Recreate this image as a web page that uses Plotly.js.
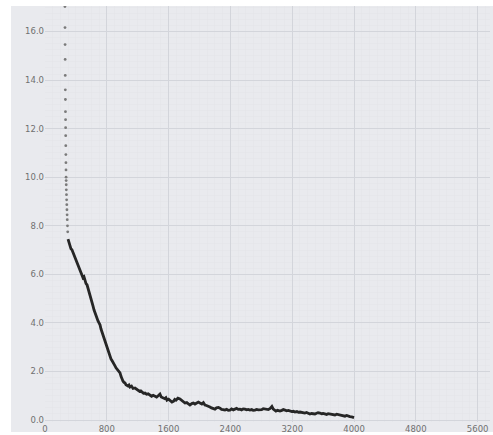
<!DOCTYPE html>
<html>
<head>
<meta charset="utf-8">
<script src="https://cdn.plot.ly/plotly-3.0.1.min.js"></script>
<style>html,body{margin:0;padding:0;background:#fff;}#chart{width:493px;height:435px;}</style>
</head>
<body>
<div id="chart"></div>
<script>
// Sparse early points (markers)
const dotX = [258,259,260,261,262,263,264,265,266,267,268,269,270,271,272,273,274,275,276,278,280,282,284,286,288,291,294];
const dotY = [17.03,16.16,15.46,14.85,14.19,13.6,13.2,12.7,12.37,12.04,11.71,11.3,10.93,10.6,10.3,10.0,9.86,9.69,9.48,9.28,9.07,8.87,8.66,8.45,8.25,8.0,7.75];

// Dense curve
const lineX = [298,310,324,336,349,362,375,388,400,414,427,440,453,466,479,492,505,518,531,544,556,569,582,595,608,621,634,647,660,673,686,699,712,725,738,751,764,777,790,803,815,828,841,854,867,880,893,906,919,932,945,958,971,984,997,1010,1022,1035,1048,1061,1074,1087,1100,1120,1140,1165,1185,1203,1225,1240,1255,1275,1294,1315,1335,1359,1380,1400,1423,1445,1465,1488,1505,1527,1550,1565,1579,1600,1620,1643,1665,1680,1695,1720,1747,1770,1790,1812,1835,1855,1876,1900,1920,1941,1965,1985,2006,2030,2050,2070,2090,2110,2135,2155,2178,2200,2220,2245,2265,2285,2305,2329,2350,2372,2394,2415,2437,2459,2480,2500,2523,2545,2565,2588,2610,2630,2653,2675,2695,2717,2740,2760,2782,2805,2825,2847,2870,2890,2915,2937,2955,2970,2989,3010,3025,3041,3065,3085,3106,3125,3150,3170,3195,3215,3235,3260,3280,3300,3320,3345,3364,3385,3405,3429,3450,3470,3494,3515,3535,3559,3580,3600,3623,3645,3665,3688,3710,3730,3753,3775,3795,3817,3840,3860,3882,3905,3925,3947,3970,3990,4000];
const lineY = [7.45,7.30,7.22,7.05,7.01,6.90,6.85,6.72,6.60,6.50,6.39,6.30,6.19,6.05,5.98,5.86,5.90,5.73,5.62,5.57,5.45,5.30,5.15,5.02,4.87,4.70,4.54,4.40,4.32,4.21,4.08,4.00,3.92,3.75,3.62,3.51,3.35,3.20,3.09,2.98,2.89,2.72,2.60,2.52,2.45,2.39,2.30,2.23,2.15,2.10,2.06,2.00,1.94,1.80,1.65,1.60,1.55,1.53,1.45,1.42,1.40,1.44,1.36,1.40,1.30,1.32,1.26,1.24,1.18,1.20,1.15,1.10,1.11,1.06,1.08,1.03,0.98,1.02,0.99,0.95,1.00,1.07,0.95,0.91,0.88,0.92,0.82,0.86,0.80,0.74,0.78,0.85,0.82,0.90,0.87,0.80,0.76,0.70,0.72,0.66,0.62,0.68,0.70,0.66,0.72,0.74,0.70,0.66,0.72,0.62,0.60,0.58,0.54,0.50,0.48,0.45,0.50,0.52,0.49,0.44,0.43,0.41,0.44,0.40,0.41,0.46,0.42,0.45,0.48,0.44,0.45,0.42,0.46,0.45,0.42,0.44,0.41,0.43,0.40,0.41,0.44,0.42,0.41,0.43,0.47,0.45,0.42,0.43,0.48,0.56,0.45,0.40,0.37,0.40,0.38,0.37,0.40,0.43,0.41,0.38,0.40,0.37,0.35,0.36,0.33,0.35,0.32,0.33,0.31,0.30,0.29,0.31,0.27,0.25,0.27,0.26,0.25,0.28,0.30,0.29,0.26,0.27,0.25,0.23,0.26,0.25,0.24,0.22,0.21,0.24,0.23,0.21,0.18,0.20,0.16,0.19,0.15,0.14,0.13,0.10,0.10];

const xTicks = [0,800,1600,2400,3200,4000,4800,5600];
const yTicks = [0,2,4,6,8,10,12,14,16];

const tickFont = {family: 'DejaVu Sans, sans-serif', size: 8.5, color: '#707070'};

const traces = [
  {x: dotX, y: dotY, type: 'scatter', mode: 'markers',
   marker: {size: 2.8, color: '#7a7a7a'}, hoverinfo: 'skip'},
  {x: lineX, y: lineY, type: 'scatter', mode: 'lines',
   line: {color: '#262626', width: 2.8}, hoverinfo: 'skip'}
];

const layout = {
  width: 493, height: 435,
  margin: {l: 45, r: 3, t: 6, b: 13},
  paper_bgcolor: '#ffffff',
  plot_bgcolor: 'rgba(0,0,0,0)',
  showlegend: false,
  shapes: [{type: 'rect', xref: 'paper', yref: 'paper', layer: 'below',
            x0: -0.0764, x1: 1.01, y0: -0.024, y1: 1.0,
            fillcolor: '#e9eaee', line: {width: 0}}],
  xaxis: {
    range: [0, 5760], tickvals: xTicks, ticktext: xTicks.map(String),
    showgrid: true, gridcolor: '#d3d5db', gridwidth: 1,
    minor: {dtick: 100, showgrid: true, gridcolor: '#e3e4e8', gridwidth: 0.5},
    zeroline: false, showline: false, ticks: '', tickfont: tickFont
  },
  yaxis: {
    range: [-0.08, 17.05], tickvals: yTicks, ticktext: yTicks.map(v => v.toFixed(1)),
    showgrid: true, gridcolor: '#d3d5db', gridwidth: 1,
    minor: {dtick: 0.25, showgrid: true, gridcolor: '#e3e4e8', gridwidth: 0.5},
    zeroline: false, showline: false, ticks: '', tickfont: tickFont
  }
};

Plotly.newPlot('chart', traces, layout, {displayModeBar: false, staticPlot: true});
</script>
</body>
</html>
